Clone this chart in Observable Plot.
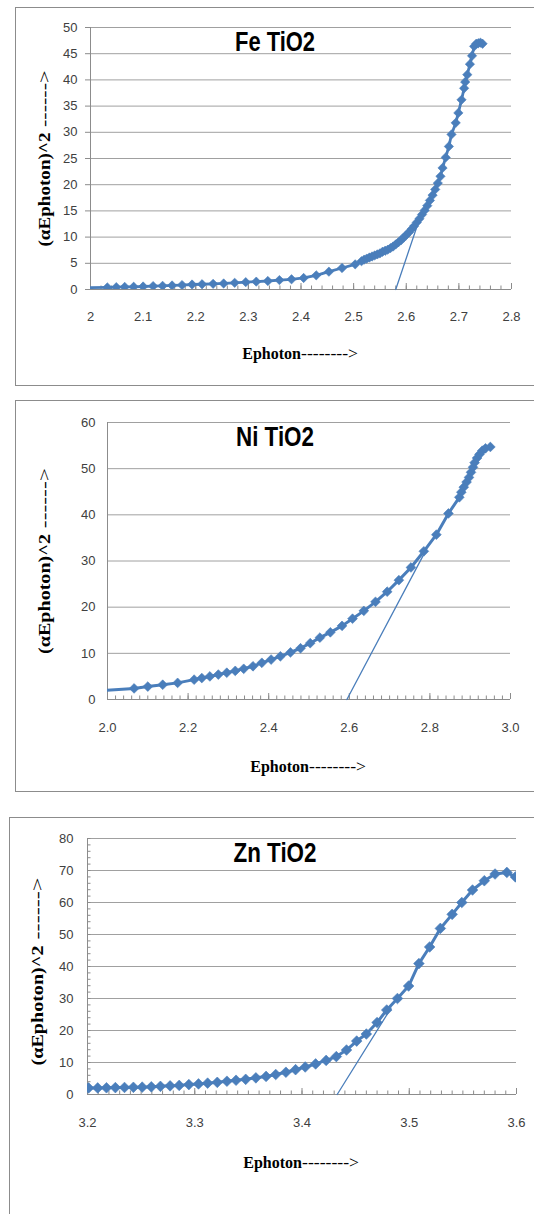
<!DOCTYPE html>
<html><head><meta charset="utf-8">
<script src="https://cdn.jsdelivr.net/npm/d3@7"></script>
<script src="https://cdn.jsdelivr.net/npm/@observablehq/plot@0.6"></script>
<style>
html,body{margin:0;padding:0;background:#fff;}
#wrap{position:relative;width:534px;height:1214px;overflow:hidden;background:#fff;}
.box{position:absolute;border:1px solid #8c8c8c;}
.panel{position:absolute;left:0;}
</style></head><body><div id="wrap"></div>
<script>
// ---------- Fe TiO2 ----------
const feEnergy = [1.99, 2.032, 2.049, 2.065, 2.082, 2.100, 2.119, 2.137, 2.155, 2.174, 2.193, 2.212, 2.233, 2.253, 2.274, 2.295, 2.315, 2.337, 2.359, 2.382, 2.405, 2.429, 2.453, 2.478, 2.503, 2.515, 2.520, 2.525, 2.530, 2.535, 2.540, 2.545, 2.550, 2.555, 2.560, 2.565, 2.570, 2.575, 2.580, 2.585, 2.590, 2.595, 2.600, 2.605, 2.610, 2.615, 2.620, 2.625, 2.630, 2.635, 2.640, 2.645, 2.650, 2.655, 2.660, 2.665, 2.669, 2.675, 2.681, 2.686, 2.694, 2.699, 2.705, 2.710, 2.712, 2.716, 2.721, 2.725, 2.729, 2.733, 2.737, 2.741, 2.745];
const feAbs = [0.35, 0.40, 0.45, 0.50, 0.52, 0.57, 0.65, 0.70, 0.77, 0.85, 0.95, 1.00, 1.08, 1.15, 1.28, 1.40, 1.50, 1.62, 1.80, 1.95, 2.20, 2.70, 3.40, 4.10, 4.80, 5.4, 5.7, 5.9, 6.1, 6.3, 6.5, 6.7, 6.9, 7.2, 7.4, 7.6, 7.9, 8.2, 8.6, 9.0, 9.4, 9.9, 10.4, 10.9, 11.5, 12.1, 12.8, 13.5, 14.3, 15.1, 16.0, 17.0, 18.0, 19.1, 20.3, 21.6, 23.2, 25.2, 27.3, 29.6, 31.8, 33.7, 36.2, 38.4, 39.6, 41.0, 43.0, 44.6, 46.4, 46.9, 47.0, 47.1, 46.9];
const feTangentX = [2.580, 2.632];
const feTangentY = [0, 15.5];
const feXTicks = [2, 2.1, 2.2, 2.3, 2.4, 2.5, 2.6, 2.7, 2.8];
const feXLabels = ["2", "2.1", "2.2", "2.3", "2.4", "2.5", "2.6", "2.7", "2.8"];
const feYTicks = [0, 5, 10, 15, 20, 25, 30, 35, 40, 45, 50];

// ---------- Ni TiO2 ----------
const niEnergy = [1.98, 2.066, 2.100, 2.137, 2.174, 2.215, 2.234, 2.254, 2.275, 2.296, 2.317, 2.338, 2.361, 2.383, 2.406, 2.429, 2.454, 2.479, 2.503, 2.527, 2.553, 2.582, 2.608, 2.636, 2.665, 2.694, 2.723, 2.753, 2.785, 2.816, 2.846, 2.873, 2.878, 2.884, 2.891, 2.897, 2.902, 2.907, 2.911, 2.917, 2.923, 2.930, 2.938, 2.950];
const niAbs = [1.9, 2.4, 2.8, 3.2, 3.6, 4.3, 4.65, 5.0, 5.4, 5.8, 6.2, 6.65, 7.2, 7.95, 8.65, 9.35, 10.2, 11.1, 12.2, 13.4, 14.55, 15.95, 17.5, 19.2, 21.15, 23.35, 25.85, 28.6, 32.1, 35.7, 40.3, 43.8, 44.9, 46.0, 47.1, 48.1, 49.2, 50.3, 51.3, 52.3, 53.1, 53.9, 54.4, 54.7];
const niTangentX = [2.594, 2.790];
const niTangentY = [0, 32.3];
const niXTicks = [2.0, 2.2, 2.4, 2.6, 2.8, 3.0];
const niXLabels = ["2.0", "2.2", "2.4", "2.6", "2.8", "3.0"];
const niYTicks = [0, 10, 20, 30, 40, 50, 60];

// ---------- Zn TiO2 ----------
const znEnergy = [3.201, 3.2095, 3.2177, 3.226, 3.2345, 3.2428, 3.251, 3.2595, 3.268, 3.277, 3.2855, 3.2945, 3.3035, 3.312, 3.321, 3.330, 3.3385, 3.3475, 3.357, 3.3665, 3.3755, 3.385, 3.394, 3.403, 3.4127, 3.4225, 3.432, 3.4415, 3.451, 3.460, 3.470, 3.479, 3.489, 3.4994, 3.509, 3.519, 3.529, 3.540, 3.549, 3.559, 3.570, 3.580, 3.591, 3.599];
const znAbs = [2.05, 2.05, 2.1, 2.15, 2.2, 2.25, 2.3, 2.4, 2.55, 2.7, 2.85, 3.1, 3.3, 3.55, 3.8, 4.15, 4.45, 4.75, 5.2, 5.65, 6.25, 6.95, 7.75, 8.6, 9.55, 10.65, 11.85, 13.9, 16.7, 18.9, 22.5, 26.4, 30.0, 33.9, 40.9, 46.1, 51.9, 56.3, 60.0, 63.9, 66.8, 68.9, 69.4, 68.0];
const znTangentX = [3.4328, 3.483];
const znTangentY = [0, 27];
const znXTicks = [3.2, 3.3, 3.4, 3.5, 3.6];
const znXLabels = ["3.2", "3.3", "3.4", "3.5", "3.6"];
const znYTicks = [0, 10, 20, 30, 40, 50, 60, 70, 80];

const titles = ["Fe TiO2", "Ni TiO2", "Zn TiO2"];
const xTitle = "Ephoton";
const xArrow = "-------->";
const yTitle = "(\u03b1Ephoton)^2";
const yArrow = " ------>";

const BLUE = "#4a7ebb";
const AXIS = "#8c8c8c";
const GRID = "#a0a0a0";
const SANS = "'Liberation Sans', Arial, sans-serif";
const SERIF = "'Liberation Serif', 'Times New Roman', serif";

function panel(c) {
  const pts = c.xs.map((x, i) => ({x, y: c.ys[i]}));
  const tan = c.tx.map((x, i) => ({x, y: c.ty[i]}));
  const lab = new Map(c.xTicks.map((t, i) => [t, c.xLabels[i]]));
  const marks = [
    Plot.gridY(c.yTicks.filter(v => v > 0), {stroke: GRID, strokeOpacity: 1, strokeWidth: 1}),
    Plot.ruleY([0], {stroke: AXIS, strokeWidth: 1}),
    Plot.ruleX([c.xDomain[0]], {stroke: AXIS, strokeWidth: 1}),
    Plot.axisX(c.minorX, {tickSize: -3.5, tickFormat: () => "", stroke: AXIS, label: null}),
    Plot.axisX(c.xTicks, {tickSize: -6, tickFormat: () => "", stroke: AXIS, label: null}),
    Plot.axisX(c.xTicks, {tickSize: 0, tickPadding: c.xPad, tickFormat: d => lab.get(d), fontSize: 13, fontFamily: SANS, fill: "#404040", label: null}),
    Plot.axisY(c.yTicks, {tickSize: c.yTickSize, tickPadding: c.yPad, stroke: AXIS, fontSize: 13, fontFamily: SANS, fill: "#404040", label: null}),
  ];
  if (c.minorY) marks.push(Plot.axisY(c.minorY, {tickSize: -3.5, tickFormat: () => "", stroke: AXIS, label: null}));
  marks.push(
    Plot.line(pts, {x: "x", y: "y", stroke: BLUE, strokeWidth: c.lw, clip: true}),
    Plot.dot(pts, {x: "x", y: "y", symbol: "diamond2", r: c.r, fill: BLUE, stroke: BLUE, strokeWidth: 0.6, clip: true}),
    Plot.line(tan, {x: "x", y: "y", stroke: BLUE, strokeWidth: 1.3}),
    Plot.text([c.title], {frameAnchor: "top", dx: c.tdx, dy: c.tdy, fontSize: 28, fontWeight: "bold", fontFamily: SANS, fill: "#000", lineAnchor: "middle"}),
    Plot.text([xTitle], {frameAnchor: "bottom", textAnchor: "end", dy: c.xtdy, fontSize: 16, fontWeight: "bold", fontFamily: SERIF, fill: "#000", lineAnchor: "middle"}),
    Plot.text([xArrow], {frameAnchor: "bottom", textAnchor: "start", dy: c.xtdy, fontSize: 16, fontFamily: SERIF, fill: "#000", lineAnchor: "middle"}),
    Plot.text([yTitle], {frameAnchor: "left", rotate: -90, textAnchor: "end", dx: c.ytdx, dy: c.ytdy, fontSize: 17, fontWeight: "bold", fontFamily: SERIF, fill: "#000", lineAnchor: "middle"}),
    Plot.text([yArrow], {frameAnchor: "left", rotate: -90, textAnchor: "start", dx: c.ytdx, dy: c.ytdy, fontSize: 16, fontFamily: SERIF, fill: "#000", lineAnchor: "middle"})
  );
  const svg = Plot.plot({
    width: 534, height: c.height,
    marginTop: c.mt, marginRight: c.mr, marginBottom: c.mb, marginLeft: c.ml,
    style: {background: "transparent", overflow: "visible"},
    x: {domain: c.xDomain},
    y: {domain: c.yDomain},
    marks
  });
  // condense texts to the reference's narrow typeface widths
  const fit = {[c.title]: c.titleLen, [yTitle]: c.yLen, [yArrow]: c.yArrowLen, [xArrow]: 57};
  d3.select(svg).selectAll("text").each(function() {
    const t = this.textContent;
    if (fit[t]) d3.select(this).attr("textLength", fit[t]).attr("lengthAdjust", "spacingAndGlyphs");
  });
  return svg;
}

const wrap = document.getElementById("wrap");
function box(l, t, w, h) {
  const d = document.createElement("div");
  d.className = "box";
  d.style.left = l + "px"; d.style.top = t + "px";
  d.style.width = w + "px"; d.style.height = h + "px";
  wrap.appendChild(d);
}
box(15, 7, 600, 377);
box(15, 400, 600, 390);
box(9, 817, 600, 500);

const configs = [
  {top: 0, height: 395, mt: 27, mb: 106, ml: 90, mr: 23,
   xs: feEnergy, ys: feAbs, tx: feTangentX, ty: feTangentY,
   xDomain: [2, 2.8], yDomain: [0, 50], xTicks: feXTicks, xLabels: feXLabels, yTicks: feYTicks,
   minorX: d3.range(2, 2.8001, 0.02), minorY: null,
   xPad: 22, yTickSize: 5, yPad: 8, lw: 2.8, r: 4.2, title: titles[0], tdx: -26, tdy: 15, titleLen: 80,
   xtdy: 64, ytdx: -46, ytdy: -26, yLen: 114, yArrowLen: 62},
  {top: 395, height: 410, mt: 27, mb: 106, ml: 107, mr: 24,
   xs: niEnergy, ys: niAbs, tx: niTangentX, ty: niTangentY,
   xDomain: [2, 3], yDomain: [0, 60], xTicks: niXTicks, xLabels: niXLabels, yTicks: niYTicks,
   minorX: d3.range(2, 3.0001, 0.02), minorY: null,
   xPad: 23, yTickSize: 0, yPad: 12, lw: 3, r: 4.4, title: titles[1], tdx: -34, tdy: 15, titleLen: 78,
   xtdy: 67, ytdx: -63, ytdy: -27, yLen: 120, yArrowLen: 66},
  {top: 805, height: 409, mt: 33, mb: 120, ml: 87, mr: 18,
   xs: znEnergy, ys: znAbs, tx: znTangentX, ty: znTangentY,
   xDomain: [3.2, 3.6], yDomain: [0, 80], xTicks: znXTicks, xLabels: znXLabels, yTicks: znYTicks,
   minorX: d3.range(3.2, 3.6001, 0.01), minorY: d3.range(0, 80.001, 2),
   xPad: 23, yTickSize: 0, yPad: 14, lw: 3, r: 4.8, title: titles[2], tdx: -27, tdy: 15, titleLen: 83,
   xtdy: 68, ytdx: -49.5, ytdy: -21, yLen: 120, yArrowLen: 68}
];

for (const c of configs) {
  const svg = panel(c);
  const holder = document.createElement("div");
  holder.className = "panel";
  holder.style.top = c.top + "px";
  holder.appendChild(svg);
  wrap.appendChild(holder);
}
</script>
</body></html>
